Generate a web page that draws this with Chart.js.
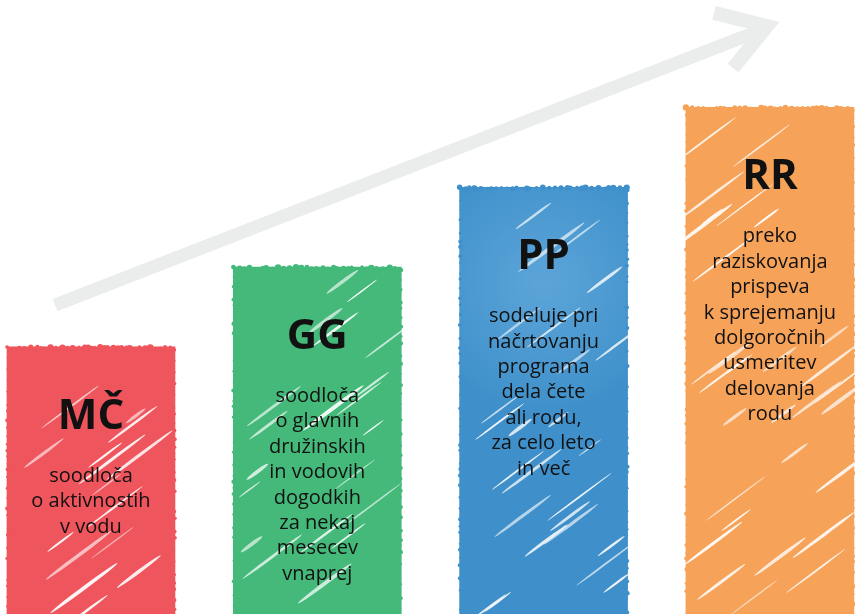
<!DOCTYPE html>
<html>
<head>
<meta charset="utf-8">
<script src="https://cdn.jsdelivr.net/npm/chart.js@4.4.1/dist/chart.umd.min.js"></script>
<style>
  html, body { margin: 0; padding: 0; background: #fff; overflow: hidden; }
  #wrap { width: 855px; height: 614px; position: relative; }
</style>
</head>
<body>
<div id="wrap"><canvas id="chart"></canvas></div>
<script>
// levels of the four steps (bar heights, arbitrary scale 0..100)
const categories = ['MČ', 'GG', 'PP', 'RR'];
const levels = [43.5, 56.5, 69.5, 82.5];
const descriptions = [
  ['soodloča', 'o aktivnostih', 'v vodu'],
  ['soodloča', 'o glavnih', 'družinskih', 'in vodovih', 'dogodkih', 'za nekaj', 'mesecev', 'vnaprej'],
  ['sodeluje pri', 'načrtovanju', 'programa', 'dela čete', 'ali rodu,', 'za celo leto', 'in več'],
  ['preko', 'raziskovanja', 'prispeva', 'k sprejemanju', 'dolgoročnih', 'usmeritev', 'delovanja', 'rodu']
];
const barColors = ['#EF555D', '#44B97A', '#3F90CA', '#F6A258'];

// small seeded generator, only used for the hand-drawn look
let seed = 1;
function rnd() {
   seed = (seed * 16807) % 2147483647;
   return (seed - 1) / 2147483646;
}

// light grey arrow in the background
const arrowPlugin = {
   id: 'arrow',
   beforeDatasetsDraw(chart) {
      const ctx = chart.ctx;
      const sx = chart.scales.x, sy = chart.scales.y;
      const pt = (a, b) => [sx.getPixelForValue(a), sy.getPixelForValue(b)];
      const start = pt(-0.159, 50.3);
      const end = pt(2.974, 95.3);
      const tip = pt(3.014, 96.4);
      const arm1 = pt(2.753, 97.9);
      const arm2 = pt(2.837, 88.9);
      ctx.save();
      ctx.strokeStyle = '#EBEDED';
      ctx.lineWidth = 13;
      ctx.lineCap = 'butt';
      ctx.beginPath();
      ctx.moveTo(start[0], start[1]);
      ctx.lineTo(end[0], end[1]);
      ctx.stroke();
      ctx.lineWidth = 14;
      ctx.lineJoin = 'miter';
      ctx.beginPath();
      ctx.moveTo(arm1[0], arm1[1]);
      ctx.lineTo(tip[0] - 6, tip[1] + 4);
      ctx.lineTo(arm2[0], arm2[1]);
      ctx.stroke();
      ctx.restore();
   }
};

// ragged edges, white brush strokes and the texts on each bar
const sketchPlugin = {
   id: 'sketch',
   afterDatasetsDraw(chart) {
      const ctx = chart.ctx;
      const meta = chart.getDatasetMeta(0);
      meta.data.forEach((bar, i) => {
         const left = bar.x - bar.width / 2;
         const right = bar.x + bar.width / 2;
         const top = bar.y;
         const bottom = bar.base;
         seed = 17 + i * 131;
         ctx.save();

         // ragged outline
         ctx.fillStyle = barColors[i];
         for (let x = left; x < right; x += 3 + rnd() * 4) {
            ctx.beginPath();
            ctx.arc(x, top + rnd() * 1.5, 1.3 + rnd() * 2, 0, Math.PI * 2);
            ctx.fill();
         }
         for (let y = top; y < bottom; y += 5 + rnd() * 9) {
            ctx.beginPath();
            ctx.arc(left + rnd(), y, 0.8 + rnd() * 1.4, 0, Math.PI * 2);
            ctx.fill();
            ctx.beginPath();
            ctx.arc(right - rnd(), y + 3, 0.8 + rnd() * 1.4, 0, Math.PI * 2);
            ctx.fill();
         }

         // white brush strokes
         ctx.save();
         ctx.beginPath();
         ctx.rect(left - 3, top - 3, right - left + 6, bottom - top + 6);
         ctx.clip();
         const n = Math.round((bottom - top) / 17);
         for (let k = 0; k < n; k++) {
            const cx = left + 15 + rnd() * (right - left - 20);
            const cy = top + 14 + rnd() * (bottom - top - 14);
            const len = 24 + rnd() * 60;
            ctx.fillStyle = 'rgba(255,255,255,' + (0.55 + rnd() * 0.4) + ')';
            ctx.beginPath();
            ctx.ellipse(cx, cy, len / 2, 0.7 + rnd() * 1.3, -0.64, 0, Math.PI * 2);
            ctx.fill();
         }
         ctx.restore();

         // texts
         ctx.fillStyle = '#111';
         ctx.textAlign = 'center';
         ctx.textBaseline = 'alphabetic';
         ctx.font = 'bold 42px "Open Sans"';
         const titleY = top + 82;
         ctx.fillText(categories[i], bar.x, titleY);
         ctx.font = '20px "Open Sans"';
         descriptions[i].forEach((line, j) => {
            ctx.fillText(line, bar.x, titleY + 53 + j * 25.4);
         });
         ctx.restore();
      });
   }
};

new Chart(document.getElementById('chart'), {
   type: 'bar',
   data: {
      datasets: [{
         data: levels.map((v, i) => ({ x: i, y: v })),
         backgroundColor: (c) => {
            if (c.dataIndex !== 2 || !c.chart.chartArea) return barColors[c.dataIndex];
            // blue bar has a soft light spot behind its title
            const cx = c.chart.scales.x.getPixelForValue(2);
            const cy = c.chart.scales.y.getPixelForValue(levels[2]) + 95;
            const g = c.chart.ctx.createRadialGradient(cx, cy, 5, cx, cy, 130);
            g.addColorStop(0, '#5BA4D8');
            g.addColorStop(1, barColors[2]);
            return g;
         },
         borderWidth: 0,
         barThickness: 168
      }]
   },
   options: {
      responsive: true,
      maintainAspectRatio: false,
      animation: false,
      layout: { padding: 0 },
      plugins: {
         legend: { display: false },
         tooltip: { enabled: false }
      },
      scales: {
         x: {
            type: 'linear',
            min: -0.402,
            max: 3.376,
            offset: false,
            display: false,
            ticks: { callback: (v) => categories[v] ?? '' }
         },
         y: {
            min: 0,
            max: 100,
            display: false
         }
      }
   },
   plugins: [arrowPlugin, sketchPlugin]
});
</script>
</body>
</html>
